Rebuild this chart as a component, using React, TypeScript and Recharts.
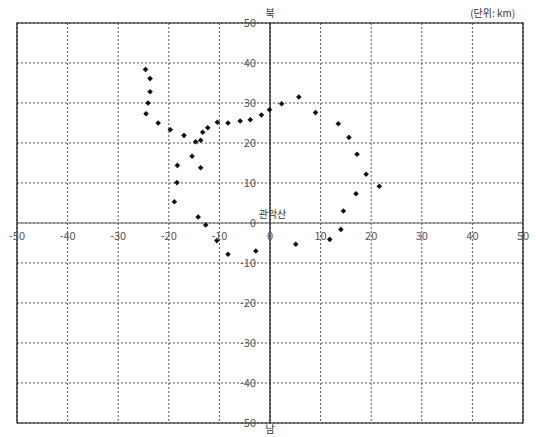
import React from "react";
import {
  ScatterChart,
  Scatter,
  XAxis,
  YAxis,
  CartesianGrid,
  ReferenceLine,
  ReferenceDot,
  ReferenceArea,
} from "recharts";

// 관악산 기준 위치 (km): 동쪽 +, 북쪽 +
const eastKm = [
  -24.6, -23.7, -23.7, -24.1, -24.5, -22.1, -19.7, -17.0, -14.7, -13.7, -13.3,
  -12.3, -10.4, -8.3, -5.9, -3.9, -1.7, -0.1, 2.3, 5.7, 9.0, 13.5, 15.6, 17.2,
  19.0, 21.6, 17.0, 14.5, 14.0, 11.8, 5.1, -2.8, -8.3, -10.5, -12.7, -14.2,
  -18.9, -18.4, -18.3, -13.7, -15.4,
];
const northKm = [
  38.4, 36.1, 32.8, 30.0, 27.3, 25.0, 23.3, 21.9, 20.3, 20.7, 22.7, 23.8, 25.2,
  25.0, 25.5, 25.8, 27.0, 28.3, 29.8, 31.5, 27.6, 24.8, 21.4, 17.2, 12.2, 9.2,
  7.3, 3.0, -1.6, -4.1, -5.3, -7.0, -7.8, -4.4, -0.5, 1.5, 5.3, 10.1, 14.4,
  13.8, 16.7,
];
const ticks = [-50, -40, -30, -20, -10, 0, 10, 20, 30, 40, 50];

const points = eastKm.map((x, i) => ({ x, y: northKm[i] }));

const FONT = "'Noto Sans CJK KR', 'Noto Sans', sans-serif";

const Diamond = (props: any) => {
  const { cx, cy } = props;
  const s = 2.8;
  return (
    <path
      d={`M${cx},${cy - s} L${cx + s},${cy} L${cx},${cy + s} L${cx - s},${cy} Z`}
      fill="#111"
    />
  );
};

const lbl = (value: string, position: any, offset: number, size = 11, color = "#555") => ({
  value,
  position,
  offset,
  fill: color,
  fontSize: size,
  fontFamily: FONT,
});

export default function App() {
  return (
    <div style={{ position: "absolute", left: 0, top: 0, background: "#fff" }}>
      <ScatterChart
        width={536}
        height={437}
        margin={{ top: 23, right: 13, bottom: 14, left: 17 }}
      >
        <XAxis type="number" dataKey="x" domain={[-50, 50]} ticks={ticks} hide />
        <YAxis type="number" dataKey="y" domain={[-50, 50]} ticks={ticks} hide />
        <CartesianGrid stroke="#555" strokeDasharray="2 2" />
        <ReferenceLine y={0} stroke="#666" strokeWidth={1.2} />
        <ReferenceLine x={0} stroke="#111" strokeWidth={1.2} />
        <ReferenceArea
          x1={-50}
          x2={50}
          y1={-50}
          y2={50}
          fill="none"
          stroke="#111"
          strokeWidth={1.2}
        />
        {ticks.map((t) => (
          <ReferenceDot key={"x" + t} x={t} y={0} r={0} label={lbl(String(t), "bottom", 9)} />
        ))}
        {ticks.map((t) => (
          <ReferenceDot key={"y" + t} x={0} y={t} r={0} label={lbl(String(t), "left", 14)} />
        ))}
        <ReferenceDot x={0} y={50} r={0} label={lbl("북", "top", 6, 10, "#333")} />
        <ReferenceDot x={0} y={-50} r={0} label={lbl("남", "bottom", 3, 10, "#333")} />
        <ReferenceDot x={44} y={50} r={0} label={lbl("(단위: km)", "top", 6, 10, "#333")} />
        <ReferenceDot x={0.5} y={0} r={0} label={lbl("관악산", "top", 5, 10, "#333")} />
        <Scatter data={points} shape={Diamond} isAnimationActive={false} />
      </ScatterChart>
    </div>
  );
}
